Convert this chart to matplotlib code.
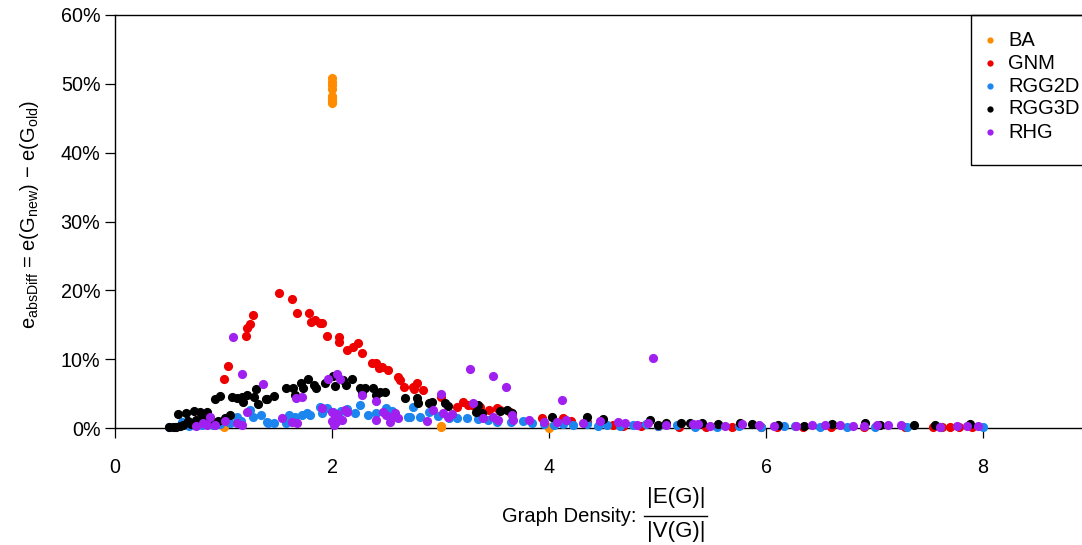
import matplotlib
matplotlib.use("Agg")
import matplotlib.pyplot as plt
from matplotlib.lines import Line2D
from matplotlib.patches import Rectangle
from matplotlib.ticker import FuncFormatter

plt.rcParams['font.family'] = ['Liberation Sans', 'DejaVu Sans']
plt.rcParams['mathtext.fontset'] = 'custom'
plt.rcParams['mathtext.rm'] = 'Liberation Sans'
plt.rcParams['mathtext.it'] = 'Liberation Sans'

series_names = ["BA", "GNM", "RGG2D", "RGG3D", "RHG"]
series_colors = ["#FF8C00", "#EE0000", "#1C86EE", "#000000", "#A020F0"]

ba_x = [2, 2, 2, 2, 2, 2, 2, 2, 1.0, 3.0, 3.0, 4.0, 4.0]
ba_y = [50.8, 50.3, 49.8, 49.3, 48.3, 47.9, 47.5, 47.2, 0.2, 0.3, 0.2, 0.1, 0.0]

gnm_x = [0.9, 1.00, 1.04, 1.21, 1.22, 1.24, 1.27, 1.51, 1.63, 1.68, 1.79, 1.81, 1.84, 1.89,
         1.91, 1.95, 2.06, 2.06, 2.14, 2.19, 2.24, 2.28, 2.37, 2.41, 2.43, 2.46, 2.52, 2.61,
         2.63, 2.66, 2.75, 2.78, 2.76, 2.84, 3.00, 3.15, 3.21, 3.25, 3.29, 3.36, 3.45, 3.52,
         3.55, 3.64, 3.94, 4.13, 4.20, 4.35, 4.59, 4.68, 4.85, 5.00, 5.20, 5.45, 5.69, 5.95,
         6.10, 6.34, 6.60, 6.90, 7.28, 7.54, 7.62, 7.70, 7.78, 7.90]
gnm_y = [0.6, 7.1, 9.0, 13.4, 14.5, 15.1, 16.4, 19.6, 18.7, 16.7, 16.7, 15.4, 15.7, 15.3,
         15.2, 13.4, 13.2, 12.5, 11.3, 11.7, 12.3, 10.9, 9.4, 9.4, 8.7, 8.8, 8.4, 7.4,
         7.0, 6.0, 6.0, 6.5, 5.6, 5.5, 4.5, 3.1, 3.8, 3.4, 3.3, 3.1, 2.6, 2.9,
         2.6, 2.3, 1.4, 1.4, 1.0, 0.8, 0.4, 0.3, 0.3, 0.3, 0.2, 0.2, 0.2, 0.2,
         0.1, 0.1, 0.1, 0.1, 0.2, 0.1, 0.2, 0.2, 0.1, 0.1]

rgg2d_x = [0.50, 0.55, 0.60, 0.62, 0.68, 0.72, 0.80, 0.85, 0.90, 0.97, 1.06, 1.12, 1.16, 1.24,
           1.27, 1.35, 1.40, 1.41, 1.47, 1.58, 1.60, 1.66, 1.72, 1.77, 1.80, 1.89, 1.91, 1.95,
           2.01, 2.08, 2.14, 2.21, 2.26, 2.33, 2.41, 2.50, 2.55, 2.70, 2.75, 2.72, 2.81, 2.89,
           2.98, 3.08, 3.15, 3.24, 3.35, 3.44, 3.52, 3.65, 3.76, 3.84, 3.95, 4.05, 4.13, 4.22,
           4.35, 4.45, 4.53, 4.65, 4.77, 4.89, 5.00, 5.18, 5.35, 5.55, 5.75, 5.95, 6.17, 6.27,
           6.50, 6.75, 7.00, 7.30, 7.60, 8.00]
rgg2d_y = [0.1, 0.2, 0.3, 0.9, 0.3, 0.5, 0.4, 0.6, 0.4, 0.6, 0.7, 1.6, 1.0, 2.6,
           1.6, 1.9, 0.9, 0.7, 0.7, 0.7, 1.9, 1.6, 1.9, 2.2, 1.9, 3.1, 2.2, 2.9,
           2.3, 2.5, 2.7, 2.2, 3.3, 1.9, 2.2, 2.9, 2.5, 1.6, 3.1, 1.6, 1.6, 2.3,
           1.8, 1.5, 1.4, 1.4, 1.3, 1.2, 0.9, 0.8, 1.0, 0.7, 0.6, 0.5, 0.6, 0.4,
           0.6, 0.3, 0.4, 0.3, 0.4, 0.6, 0.3, 0.4, 0.2, 0.2, 0.3, 0.2, 0.3, 0.3,
           0.2, 0.1, 0.1, 0.1, 0.1, 0.2]

rgg3d_x = [0.50, 0.53, 0.56, 0.58, 0.60, 0.63, 0.65, 0.67, 0.70, 0.73, 0.75, 0.78, 0.80, 0.82,
           0.85, 0.88, 0.92, 0.95, 0.97, 1.01, 1.06, 1.08, 1.12, 1.17, 1.18, 1.22, 1.28, 1.30,
           1.32, 1.39, 1.40, 1.47, 1.58, 1.64, 1.66, 1.71, 1.73, 1.78, 1.83, 1.85, 1.94, 2.01,
           2.03, 2.10, 2.13, 2.18, 2.26, 2.28, 2.30, 2.38, 2.41, 2.44, 2.49, 2.67, 2.78, 2.79,
           2.89, 2.92, 3.04, 3.07, 3.33, 3.35, 3.38, 3.55, 3.61, 3.66, 4.03, 4.35, 4.50, 4.93,
           5.00, 5.08, 5.22, 5.30, 5.41, 5.56, 5.76, 5.87, 6.11, 6.35, 6.61, 6.91, 7.05, 7.36,
           7.56, 7.88]
rgg3d_y = [0.1, 0.2, 0.1, 2.0, 0.3, 0.5, 2.2, 1.0, 0.6, 2.5, 1.2, 2.3, 1.5, 0.8,
           2.3, 1.3, 4.2, 1.0, 4.6, 1.5, 1.9, 4.5, 4.3, 4.5, 3.8, 4.8, 4.5, 5.6,
           3.5, 4.2, 4.2, 4.6, 5.8, 5.8, 4.8, 6.6, 5.8, 7.1, 6.3, 5.8, 6.5, 7.6,
           6.1, 7.0, 6.3, 7.1, 5.8, 5.2, 5.8, 5.8, 4.8, 5.2, 5.2, 4.4, 4.4, 3.6,
           3.6, 3.8, 3.6, 3.2, 2.3, 3.3, 2.2, 2.5, 2.6, 2.2, 1.6, 1.6, 1.3, 1.1,
           0.5, 0.7, 0.7, 0.7, 0.7, 0.6, 0.7, 0.6, 0.4, 0.3, 0.6, 0.7, 0.4, 0.4,
           0.4, 0.6]

rhg_x = [0.75, 0.81, 0.85, 0.88, 0.92, 1.01, 1.09, 1.12, 1.17, 1.17, 1.22, 1.36, 1.54, 1.63,
         1.67, 1.68, 1.72, 1.91, 1.96, 2.00, 2.00, 2.02, 2.03, 2.04, 2.05, 2.05, 2.07, 2.09,
         2.12, 2.14, 2.28, 2.41, 2.41, 2.47, 2.50, 2.53, 2.55, 2.58, 2.61, 2.88, 2.93, 3.00,
         3.02, 3.07, 3.11, 3.27, 3.30, 3.39, 3.48, 3.48, 3.53, 3.60, 3.66, 3.67, 3.82, 3.95,
         4.07, 4.12, 4.16, 4.31, 4.47, 4.64, 4.70, 4.81, 4.91, 4.96, 5.08, 5.33, 5.37, 5.48,
         5.62, 5.78, 5.94, 6.07, 6.28, 6.42, 6.54, 6.68, 6.80, 6.90, 7.02, 7.12, 7.24, 7.60,
         7.76, 7.85, 7.95]
rhg_y = [0.3, 0.7, 0.4, 1.6, 0.5, 1.0, 13.2, 0.7, 7.8, 0.4, 2.3, 6.4, 1.4, 0.9,
         4.4, 0.7, 4.5, 2.9, 7.1, 2.3, 1.0, 0.5, 1.6, 0.9, 7.8, 2.0, 7.1, 1.2,
         2.6, 2.3, 4.8, 1.2, 3.9, 2.3, 1.9, 0.9, 1.6, 2.2, 1.4, 1.0, 2.6, 5.0,
         2.2, 1.6, 2.0, 8.6, 3.6, 1.4, 7.6, 1.6, 1.2, 6.0, 1.9, 1.2, 1.2, 0.9,
         0.9, 4.1, 1.2, 0.7, 1.0, 0.9, 0.7, 0.4, 0.7, 10.2, 0.4, 0.6, 0.6, 0.3,
         0.3, 0.6, 0.4, 0.3, 0.3, 0.5, 0.4, 0.4, 0.3, 0.3, 0.4, 0.4, 0.4, 0.2,
         0.3, 0.3, 0.3]

x_ticks = [0, 2, 4, 6, 8]
y_ticks = [0, 10, 20, 30, 40, 50, 60]

FS = 14.2
W, H = 1082, 545
fig = plt.figure(figsize=(W / 100, H / 100), dpi=100)

def fx(px):
    return px / W

def fy(py):
    return 1 - py / H

ax_left, ax_right, ax_top, ax_bottom = 115, 1092, 15, 428
ax = fig.add_axes([fx(ax_left), fy(ax_bottom), fx(ax_right - ax_left), (ax_bottom - ax_top) / H])
ax.set_xlim(0, (ax_right - ax_left) / 108.5)
ax.set_ylim(0, 60)

data = [(ba_x, ba_y), (gnm_x, gnm_y), (rgg2d_x, rgg2d_y), (rgg3d_x, rgg3d_y), (rhg_x, rhg_y)]
for (xs, ys), c in zip(data, series_colors):
    ax.plot(xs, ys, 'o', color=c, ms=6.6, mew=0, clip_on=False, zorder=3)

for s in ['left', 'top', 'bottom']:
    ax.spines[s].set_linewidth(1.0)
ax.spines['right'].set_visible(False)
ax.set_xticks(x_ticks)
ax.set_yticks(y_ticks)
ax.yaxis.set_major_formatter(FuncFormatter(lambda v, p: f"{int(v)}%"))
ax.tick_params(axis='both', length=7.5, width=0.9, labelsize=FS)
ax.tick_params(axis='y', pad=3)
ax.tick_params(axis='x', pad=14)

fig.text(fx(30), fy(215),
         r'e$_{\mathregular{absDiff}}$ = e(G$_{\mathregular{new}}$) − e(G$_{\mathregular{old}}$)',
         rotation=90, ha='center', va='center', fontsize=FS + 0.3)

fig.text(fx(636), fy(516), "Graph Density:", ha='right', va='center', fontsize=FS + 0.3)
fig.text(fx(676), fy(497), "|E(G)|", ha='center', va='center', fontsize=FS + 1.8)
fig.text(fx(676), fy(531), "|V(G)|", ha='center', va='center', fontsize=FS + 1.8)
fig.add_artist(Line2D([fx(644), fx(707)], [fy(516), fy(516)], color='black', lw=1.0))

fig.add_artist(Rectangle((fx(971), fy(165)), fx(130), (165 - 15) / H, fill=False,
                         edgecolor='black', lw=1.0, transform=fig.transFigure))
for i, (name, c) in enumerate(zip(series_names, series_colors)):
    yy = 40 + 23 * i
    fig.add_artist(Line2D([fx(990)], [fy(yy)], marker='o', color=c, ms=4.5, mew=0, ls='none'))
    fig.text(fx(1008), fy(yy), name, ha='left', va='center', fontsize=FS + 0.3)

fig.savefig("out.png", dpi=100)
